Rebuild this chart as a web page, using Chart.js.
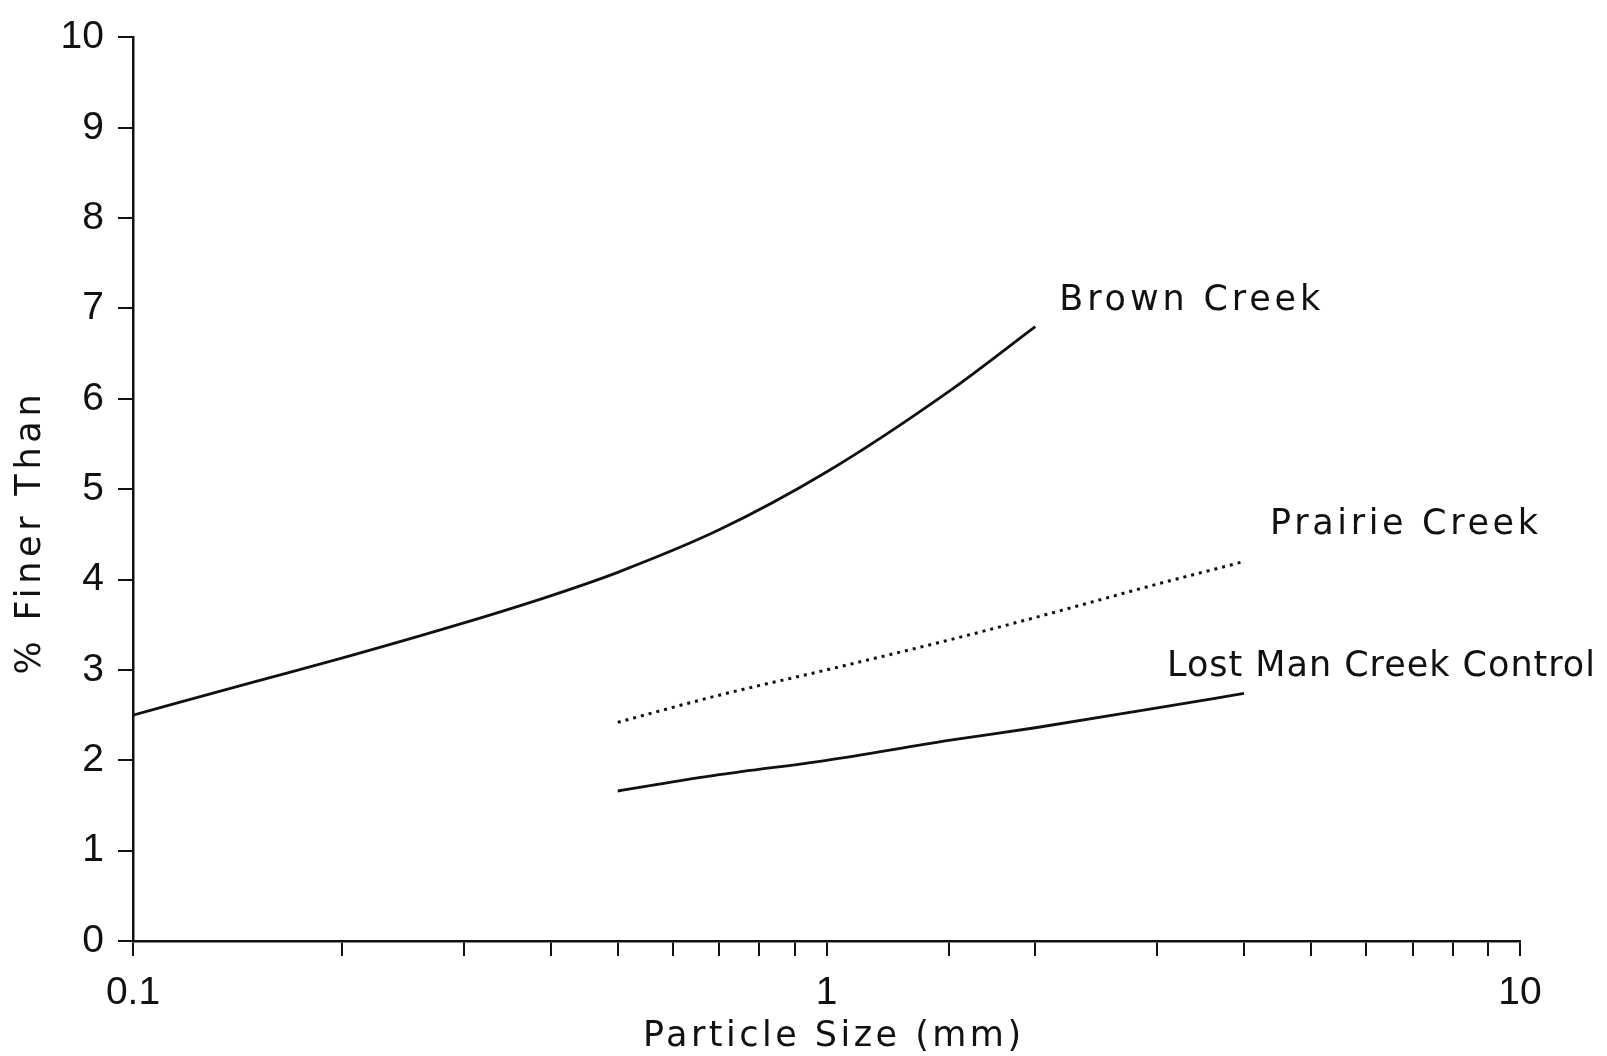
<!DOCTYPE html>
<html>
<head>
<meta charset="utf-8">
<script src="https://cdn.jsdelivr.net/npm/chart.js@4.4.1/dist/chart.umd.min.js"></script>
<style>
  html, body { margin: 0; padding: 0; background: #ffffff; }
  #wrap { width: 1607px; height: 1056px; }
</style>
</head>
<body>
<div id="wrap"><canvas id="c" width="1607" height="1056"></canvas></div>
<script>
// ---- data ----
const brownX      = [0.1, 0.15, 0.2, 0.3, 0.4, 0.5, 0.7, 1, 1.5, 2];
const brownCreek  = [2.5, 2.87, 3.13, 3.52, 3.82, 4.08, 4.55, 5.19, 6.08, 6.8];
const prairieX    = [0.5, 0.7, 1, 1.5, 2, 3, 4];
const prairieCreek= [2.42, 2.72, 3.0, 3.33, 3.58, 3.95, 4.2];
const lostX       = [0.5, 0.7, 1, 1.5, 2, 3, 4];
const lostManCreek= [1.66, 1.84, 2.0, 2.22, 2.36, 2.58, 2.74];
const seriesNames = ['Brown Creek', 'Prairie Creek', 'Lost Man Creek Control'];
const xTickLabels = ['0.1', '1', '10'];
const xTitle = 'Particle Size (mm)';
const yTitle = '% Finer Than';

const toPts = (xs, ys) => xs.map((x, i) => ({x: x, y: ys[i]}));
const INK = '#111111';

// draw text stretched (by letter spacing) to a given width
function fitText(ctx, text, x, y, width, align) {
  ctx.letterSpacing = '0px';
  const w0 = ctx.measureText(text).width;
  const sp = Math.max(0, (width - w0) / (text.length - 1));
  ctx.letterSpacing = sp.toFixed(2) + 'px';
  let left = x;
  if (align === 'center') left = x - width / 2;
  ctx.textAlign = 'left';
  ctx.fillText(text, left, y);
}

const labelPlugin = {
  id: 'labels',
  afterDraw(chart) {
    const ctx = chart.ctx;
    const xs = chart.scales.x, ys = chart.scales.y;
    ctx.save();
    ctx.fillStyle = INK;
    ctx.font = '35px "DejaVu Sans"';
    ctx.textBaseline = 'alphabetic';
    // series labels anchored to last data point
    const bx = xs.getPixelForValue(brownX[brownX.length - 1]);
    const by = ys.getPixelForValue(brownCreek[brownCreek.length - 1]);
    fitText(ctx, seriesNames[0], bx + 24, by - 17, 261);
    const px = xs.getPixelForValue(prairieX[prairieX.length - 1]);
    const py = ys.getPixelForValue(prairieCreek[prairieCreek.length - 1]);
    fitText(ctx, seriesNames[1], px + 26, py - 27, 268);
    const lx = xs.getPixelForValue(lostX[lostX.length - 1]);
    const ly = ys.getPixelForValue(lostManCreek[lostManCreek.length - 1]);
    fitText(ctx, seriesNames[2], lx - 77, ly - 17, 428);
    // axis titles
    ctx.textBaseline = 'middle';
    fitText(ctx, xTitle, 832, 1037, 378, 'center');
    ctx.translate(31, ys.getPixelForValue(4.5));
    ctx.rotate(-Math.PI / 2);
    fitText(ctx, yTitle, 0, 0, 280, 'center');
    ctx.restore();
  }
};

new Chart(document.getElementById('c'), {
  type: 'line',
  data: {
    datasets: [
      { label: seriesNames[0], data: toPts(brownX, brownCreek), borderColor: INK, borderWidth: 2.8,
        pointRadius: 0, cubicInterpolationMode: 'monotone', fill: false },
      { label: seriesNames[1], data: toPts(prairieX, prairieCreek), borderColor: INK, borderWidth: 3,
        borderDash: [3, 5], pointRadius: 0, cubicInterpolationMode: 'monotone', fill: false },
      { label: seriesNames[2], data: toPts(lostX, lostManCreek), borderColor: INK, borderWidth: 2.8,
        pointRadius: 0, cubicInterpolationMode: 'monotone', fill: false }
    ]
  },
  options: {
    responsive: false,
    animation: false,
    layout: { padding: { top: 36, right: 87, left: 0, bottom: 0 } },
    plugins: { legend: { display: false }, tooltip: { enabled: false } },
    scales: {
      x: {
        type: 'logarithmic', position: 'bottom', min: 0.1, max: 10,
        afterFit(s) { s.height = 115; },
        border: { display: true, color: INK, width: 2.5 },
        grid: { drawOnChartArea: false, drawTicks: true, tickLength: 15, color: INK, lineWidth: 2 },
        ticks: {
          autoSkip: false, maxRotation: 0, color: INK, padding: 14,
          font: { family: 'Liberation Sans', size: 39 },
          callback(v) {
            const l = Math.log10(v);
            if (Math.abs(l - Math.round(l)) < 1e-6) {
              return xTickLabels[Math.round(l) + 1];
            }
            return '';
          }
        }
      },
      y: {
        min: 0, max: 10,
        afterFit(s) { s.width = 133; },
        border: { display: true, color: INK, width: 2.5 },
        grid: { drawOnChartArea: false, drawTicks: true, tickLength: 15, color: INK, lineWidth: 2 },
        ticks: { stepSize: 1, color: INK, padding: 14, font: { family: 'Liberation Sans', size: 39 } }
      }
    }
  },
  plugins: [labelPlugin]
});
</script>
</body>
</html>
